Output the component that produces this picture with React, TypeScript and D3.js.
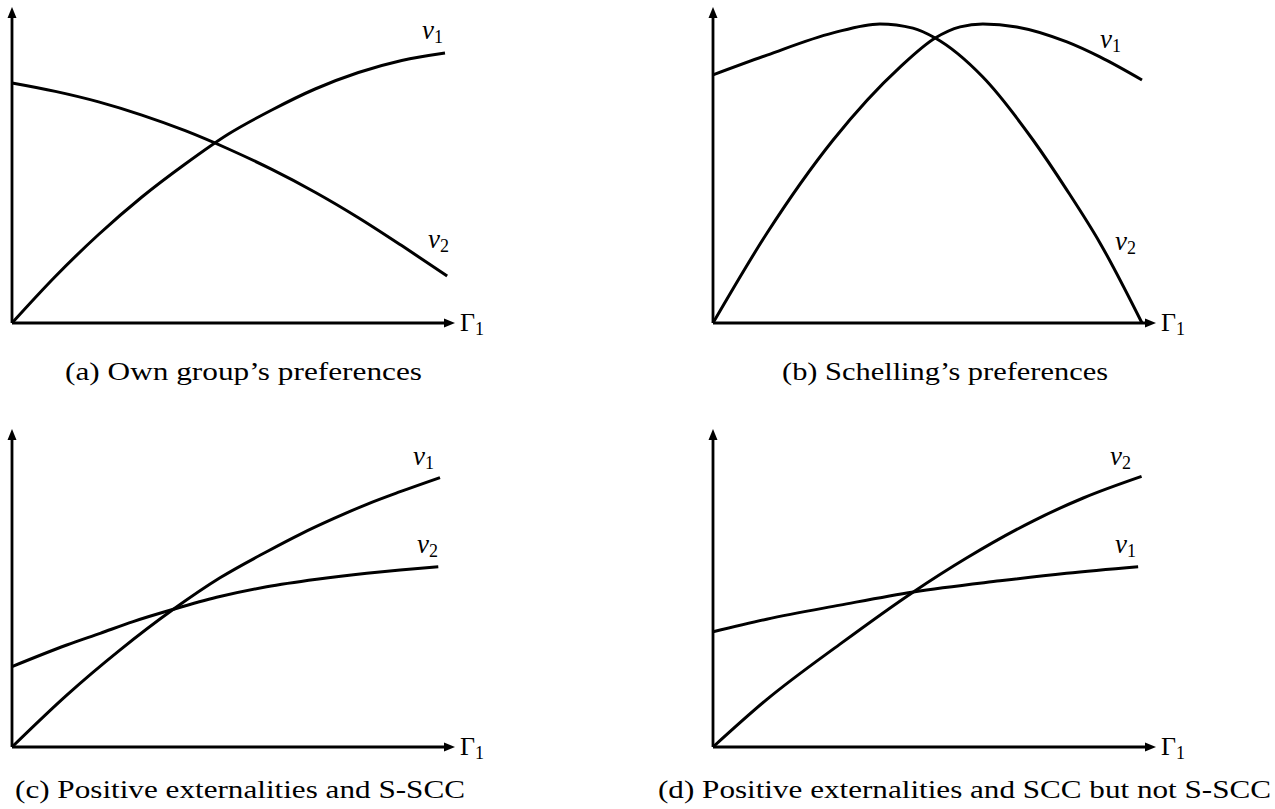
import React from "react";
import * as d3 from "d3";

// x positions along Γ1 (0..1) and values (0..1)
const aV1x = [0, 0.1, 0.2, 0.3, 0.4, 0.5, 0.6, 0.7, 0.8, 0.9, 1];
const aV1y = [0, 0.155, 0.295, 0.42, 0.53, 0.63, 0.71, 0.78, 0.835, 0.875, 0.9];
const aV2x = [0, 0.1, 0.2, 0.3, 0.4, 0.5, 0.6, 0.7, 0.8, 0.9, 1.005];
const aV2y = [0.8, 0.772, 0.737, 0.693, 0.641, 0.58, 0.512, 0.436, 0.351, 0.258, 0.157];

const bV1x = [0, 0.126, 0.28, 0.436, 0.518, 0.576, 0.629, 0.708, 0.825, 0.902, 1];
const bV1y = [0, 0.3, 0.61, 0.853, 0.95, 0.987, 0.997, 0.987, 0.937, 0.887, 0.81];
const bV2x = [0, 0.126, 0.28, 0.389, 0.466, 0.518, 0.629, 0.746, 0.825, 0.902, 1];
const bV2y = [0.827, 0.893, 0.967, 0.997, 0.983, 0.95, 0.82, 0.61, 0.443, 0.267, 0];

const cV1x = [0, 0.128, 0.252, 0.377, 0.486, 0.595, 0.673, 0.751, 0.829, 0.907, 1];
const cV1y = [0, 0.173, 0.323, 0.459, 0.564, 0.651, 0.709, 0.761, 0.809, 0.851, 0.898];
const cV2x = [0, 0.128, 0.206, 0.283, 0.377, 0.478, 0.595, 0.712, 0.829, 0.907, 0.996];
const cV2y = [0.268, 0.34, 0.379, 0.418, 0.459, 0.499, 0.534, 0.559, 0.579, 0.59, 0.601];

const dV2x = [0, 0.125, 0.296, 0.467, 0.591, 0.747, 0.863, 0.999];
const dV2y = [0, 0.158, 0.343, 0.517, 0.63, 0.754, 0.83, 0.902];
const dV1x = [0, 0.125, 0.296, 0.467, 0.669, 0.824, 0.991];
const dV1y = [0.384, 0.426, 0.473, 0.517, 0.554, 0.579, 0.601];

const captions = [
  "(a) Own group\u2019s preferences",
  "(b) Schelling\u2019s preferences",
  "(c) Positive externalities and S-SCC",
  "(d) Positive externalities and SCC but not S-SCC",
];

type Series = { xs: number[]; ys: number[]; label: string; lx: number; ly: number };

const panels: {
  ox: number; oy: number; top: number; w: number;
  capX: number; capY: number; capW: number; series: Series[];
}[] = [
  {
    ox: 12, oy: 323, top: 7, w: 433, capX: 65, capY: 380, capW: 357,
    series: [
      { xs: aV1x, ys: aV1y, label: "1", lx: 422, ly: 39 },
      { xs: aV2x, ys: aV2y, label: "2", lx: 428, ly: 248 },
    ],
  },
  {
    ox: 713, oy: 323, top: 7, w: 429, capX: 782, capY: 380, capW: 326,
    series: [
      { xs: bV1x, ys: bV1y, label: "1", lx: 1100, ly: 48 },
      { xs: bV2x, ys: bV2y, label: "2", lx: 1115, ly: 250 },
    ],
  },
  {
    ox: 12, oy: 747, top: 429, w: 428, capX: 15, capY: 798, capW: 450,
    series: [
      { xs: cV1x, ys: cV1y, label: "1", lx: 413, ly: 465 },
      { xs: cV2x, ys: cV2y, label: "2", lx: 417, ly: 553 },
    ],
  },
  {
    ox: 713, oy: 747, top: 429, w: 429, capX: 658, capY: 798, capW: 613,
    series: [
      { xs: dV2x, ys: dV2y, label: "2", lx: 1110, ly: 465 },
      { xs: dV1x, ys: dV1y, label: "1", lx: 1115, ly: 553 },
    ],
  },
];

const serif = "'Liberation Serif', 'DejaVu Serif', serif";

export default function App() {
  return (
    <svg width={1275} height={809} style={{ position: "absolute", left: 0, top: 0, background: "#fff" }}>
      {panels.map((p, i) => {
        const x = d3.scaleLinear().domain([0, 1]).range([p.ox, p.ox + p.w]);
        const y = d3.scaleLinear().domain([0, 1]).range([p.oy, p.oy - 300]);
        const tipX = p.ox + 443;
        const line = d3.line().curve(d3.curveMonotoneX);
        return (
          <g key={i}>
            {/* axes */}
            <line x1={p.ox} y1={p.oy} x2={tipX - 8} y2={p.oy} stroke="#000" strokeWidth={2.8} />
            <path d={`M${tipX},${p.oy} L${tipX - 11},${p.oy - 4.5} L${tipX - 11},${p.oy + 4.5} Z`} fill="#000" />
            <line x1={p.ox} y1={p.oy} x2={p.ox} y2={p.top + 8} stroke="#000" strokeWidth={2.8} />
            <path d={`M${p.ox},${p.top} L${p.ox - 4.5},${p.top + 11} L${p.ox + 4.5},${p.top + 11} Z`} fill="#000" />
            <text x={tipX + 5} y={p.oy + 8} fontFamily={serif} fontSize={26}>
              {"\u0393"}
              <tspan fontSize={18} dy={4}>1</tspan>
            </text>
            {p.series.map((s, j) => {
              const pts = s.xs.map((v, k) => [x(v), y(s.ys[k])] as [number, number]);
              return (
                <g key={j}>
                  <path d={line(pts) || ""} fill="none" stroke="#000" strokeWidth={3} />
                  <text x={s.lx} y={s.ly} fontFamily={serif} fontSize={27} fontStyle="italic">
                    v
                    <tspan fontStyle="normal" fontSize={18} dy={4}>{s.label}</tspan>
                  </text>
                </g>
              );
            })}
            <text
              x={p.capX}
              y={p.capY}
              fontFamily={serif}
              fontSize={26}
              textLength={p.capW}
              lengthAdjust="spacingAndGlyphs"
            >
              {captions[i]}
            </text>
          </g>
        );
      })}
    </svg>
  );
}
